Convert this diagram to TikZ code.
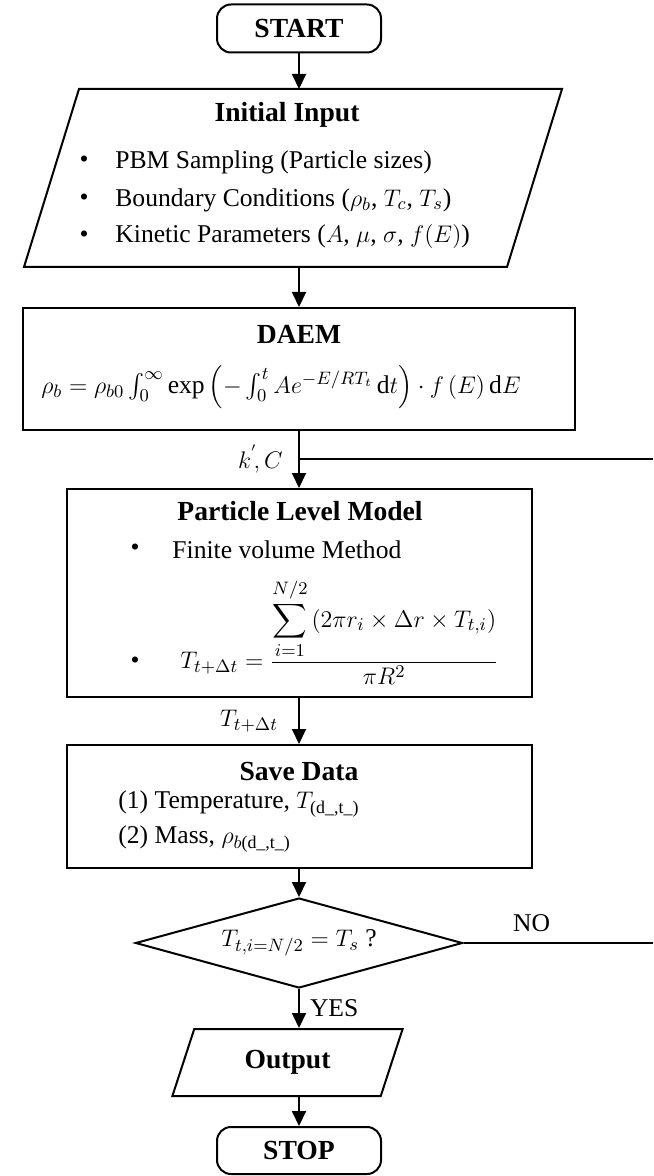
\documentclass[tikz,border=0pt]{standalone}
\usepackage{amsmath}
\usepackage{fontspec}
\setmainfont{Liberation Serif}
\usetikzlibrary{shapes.geometric,arrows.meta}

\tikzset{
  box/.style={draw,line width=1pt,inner sep=0pt},
  term/.style={box,rounded corners=7pt,minimum width=82pt,minimum height=24pt,
    font=\fontsize{13.8}{16}\selectfont\bfseries},
  io/.style={box,trapezium,trapezium stretches=true,inner sep=2pt},
  txt/.style={inner sep=0pt,font=\fontsize{12.8}{15}\selectfont},
  ttl/.style={inner sep=0pt,font=\fontsize{13.8}{16}\selectfont\bfseries},
  flow/.style={line width=1pt,-{Triangle[length=7.5pt,width=7pt]}},
}

\begin{document}
\begin{tikzpicture}[x=0.5pt,y=-0.5pt]
  \useasboundingbox (0,0) rectangle (653,1176);
  \coordinate (edge) at (653,0);
  % blocks
  \node[term] (start) at (299,28.5) {START};
  \draw[line width=1pt,line join=miter] (79,89) -- (562,89) -- (507,267) -- (24,267) -- cycle;
  \coordinate (inTop) at (299,89);
  \coordinate (inBot) at (299,267);
  \node[box,minimum width=276pt,minimum height=61pt] (daem) at (299,369) {};
  \node[box,minimum width=232.5pt,minimum height=104pt] (plm) at (299,593) {};
  \node[box,minimum width=232.5pt,minimum height=61.5pt] (save) at (299,806.5) {};
  \node[box,diamond,aspect=3.6,minimum width=163.5pt,minimum height=45pt] (check) at (299,943)
       {\fontsize{12.8}{15}\selectfont $T_{t,i=N/2}=T_s$ ?};
  \node[io,trapezium left angle=71.1,trapezium right angle=108.9,
        minimum width=115.5pt,minimum height=33.5pt,
        font=\fontsize{13.8}{16}\selectfont\bfseries] (output) at (287.5,1062.5) {Output};
  \node[term,minimum height=23.5pt] (stop) at (299,1150.5) {STOP};
  %
  % texts inside
  \node[ttl] (inT) at (287,115) {Initial Input};
  \foreach \y/\s [count=\i] in {162/{PBM Sampling (Particle sizes)},
      200/{Boundary Conditions ($\rho_b$, $T_c$, $T_s$)},
      237/{Kinetic Parameters ($A$, $\mu$, $\sigma$, $f(E)$)}}
    {\node[txt] (inB\i) at (84,\y) {\textbullet};
     \node[txt,anchor=west] (inL\i) at (115,\y) {\s};}
  \node[ttl] (daemT) at (299,334) {DAEM};
  \node[txt] (daemF) at (281,387)
    {$\rho_b=\rho_{b0}\int_0^\infty\exp\left(-\int_0^t Ae^{-E/RT_t}\,\mathrm{d}t\right)\cdot f\left(E\right)\mathrm{d}E$};
  \node[ttl] (plmT) at (300,511) {Particle Level Model};
  \node[txt] (plmB1) at (135,550) {\textbullet};
  \node[txt,anchor=west] (plmL1) at (172,550) {Finite volume Method};
  \node[txt,anchor=base] (plmB2) at (135,668) {\textbullet};
  \node[txt,anchor=base west] (plmL2) at (180,668)
    {$\displaystyle T_{t+\Delta t}=\frac{\displaystyle\sum_{i=1}^{N/2}\left(2\pi r_i\times\Delta r\times T_{t,i}\right)}{\pi R^2}$};
  \node[ttl] (saveT) at (299,771) {Save Data};
  \node[txt,anchor=west] (saveL1) at (118,804) {(1) Temperature, $T_{\text{(d\_,t\_)}}$};
  \node[txt,anchor=west] (saveL2) at (118,839) {(2) Mass, $\rho_{b\text{(d\_,t\_)}}$};
  %
  % connectors
  \draw[flow] (start) -- (inTop);
  \draw[flow] (inBot) -- (daem);
  \draw[flow] (daem) -- (plm);
  \coordinate (kc) at (299,459);
  \node[txt,anchor=east] (kcT) at ([xshift=-8pt]kc) {$k^{'}\!,C$};
  \draw[line width=1pt] (kc) -- (kc -| edge);
  \draw[flow] (plm) -- node[txt,midway,left=10pt] (tT) {$T_{t+\Delta t}$} (save);
  \draw[flow] (save) -- (check);
  \draw[line width=1pt] (check.east) -- (check.east -| edge)
    node[txt,pos=.36,above=5pt] (noT) {NO};
  \draw[flow] (check) -- node[txt,midway,right=5pt] (yesT) {YES} (check |- output.north);
  \draw[flow] (stop |- output.south) -- (stop);
\end{tikzpicture}
\end{document}
